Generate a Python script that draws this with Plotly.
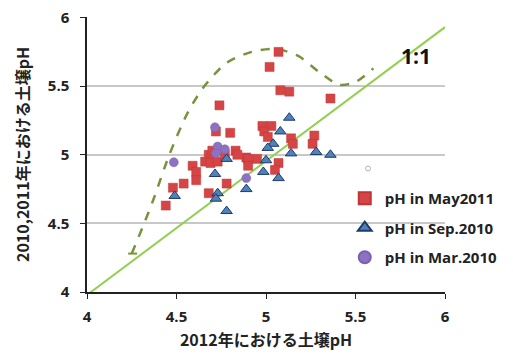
import plotly.graph_objects as go

# Red squares: pH in May2011
may2011_x = [5.07, 5.02, 5.08, 5.13, 5.36, 4.74, 4.72, 4.80, 4.98, 5.03, 4.99, 5.01,
             5.14, 5.15, 5.27, 5.26, 4.83, 4.89, 4.84, 4.90, 4.95, 4.90, 5.07, 5.05,
             4.78, 4.68, 4.66, 4.59, 4.69, 4.73, 4.61, 4.54, 4.48, 4.61, 4.44, 4.68,
             4.77, 4.70]
may2011_y = [5.75, 5.64, 5.47, 5.46, 5.41, 5.36, 5.17, 5.16, 5.21, 5.21, 5.17, 5.13,
             5.12, 5.08, 5.14, 5.08, 5.03, 4.98, 5.00, 4.97, 4.97, 4.92, 4.94, 4.89,
             4.79, 5.00, 4.95, 4.92, 4.94, 4.95, 4.875, 4.79, 4.76, 4.815, 4.63, 4.72,
             5.00, 5.03]

# Blue triangles: pH in Sep.2010
sep2010_x = [5.13, 5.08, 5.04, 5.01, 5.00, 5.14, 4.985, 5.07, 4.89, 4.78, 5.28, 5.36,
             4.715, 4.78, 4.49, 4.73, 4.72]
sep2010_y = [5.27, 5.17, 5.08, 5.05, 4.96, 5.01, 4.875, 4.83, 4.75, 4.59, 5.02, 5.00,
             4.86, 4.97, 4.70, 4.72, 4.68]

# Purple circles: pH in Mar.2010
mar2010_x = [4.715, 4.73, 4.77, 4.72, 4.485, 4.89]
mar2010_y = [5.20, 5.06, 5.04, 5.01, 4.945, 4.83]

# stray small open marker
stray_x = [5.57]
stray_y = [4.90]

# 1:1 reference line
ref_x = [3.93, 6.0]
ref_y = [3.91, 5.93]

# dashed envelope curve
env_tick_x = [4.23, 4.28]
env_tick_y = [4.28, 4.28]
env_x = [4.25, 4.31, 4.37, 4.46, 4.56, 4.65, 4.78, 4.92, 5.06, 5.18, 5.30, 5.41, 5.50, 5.60]
env_y = [4.28, 4.47, 4.67, 5.00, 5.30, 5.49, 5.67, 5.75, 5.77, 5.72, 5.60, 5.51, 5.53, 5.63]

x_ticks = [4, 4.5, 5, 5.5, 6]
y_ticks = [4, 4.5, 5, 5.5, 6]

fig = go.Figure()

env_line = dict(color="#77933c", width=2.5, dash="dash")
fig.add_trace(go.Scatter(x=env_x, y=env_y, mode="lines", showlegend=False,
                         line=dict(**env_line, shape="spline", smoothing=0.8),
                         hoverinfo="skip"))
fig.add_trace(go.Scatter(x=env_tick_x, y=env_tick_y, mode="lines", showlegend=False,
                         line=dict(color="#77933c", width=2), hoverinfo="skip"))
fig.add_trace(go.Scatter(x=ref_x, y=ref_y, mode="lines", showlegend=False,
                         line=dict(color="#92d050", width=2), hoverinfo="skip"))
fig.add_trace(go.Scatter(x=stray_x, y=stray_y, mode="markers", showlegend=False,
                         marker=dict(symbol="circle-open", size=5, color="#b0b0b0", line=dict(width=1))))

fig.add_trace(go.Scatter(x=may2011_x, y=may2011_y, mode="markers", name="pH in May2011",
                         legendgroup="a",
                         marker=dict(symbol="square", size=9, color="#d64545",
                                     line=dict(color="#c03535", width=0.5))))
fig.add_trace(go.Scatter(x=sep2010_x, y=sep2010_y, mode="markers", name="pH in Sep.2010",
                         legendgroup="b",
                         marker=dict(symbol="triangle-up", size=10, color="#4f81bd",
                                     line=dict(color="#1f3b66", width=1))))
fig.add_trace(go.Scatter(x=mar2010_x, y=mar2010_y, mode="markers", name="pH in Mar.2010",
                         legendgroup="c",
                         marker=dict(symbol="circle", size=9, color="#8e72c2",
                                     line=dict(color="#7a60b0", width=0.5))))

fig.add_annotation(x=5.84, y=5.72, text="1:1", showarrow=False,
                   font=dict(family="Open Sans", size=21, color="#111111", weight="bold"))

tick_font = dict(family="Open Sans", size=15, color="#222222", weight="bold")
title_font = dict(family="Noto Sans CJK JP", size=16, color="#222222", weight="bold")

# page body has an 8px margin, so the figure is sized/offset to keep the plot in place
fig.update_layout(
    width=505, height=346,
    margin=dict(l=79, r=68, t=9, b=62, autoexpand=False),
    plot_bgcolor="white", paper_bgcolor="white",
    showlegend=True,
    legend=dict(x=0.72, y=0.40, xanchor="left", yanchor="top",
                bgcolor="rgba(0,0,0,0)",
                font=dict(family="Open Sans", size=15, color="#222222", weight="bold"),
                itemsizing="constant", tracegroupgap=7, itemwidth=30),
    xaxis=dict(range=[4, 6], tickvals=x_ticks, ticktext=[str(v) for v in x_ticks],
               showgrid=False, zeroline=False, showline=True, linecolor="#222222", linewidth=1.5,
               ticks="outside", ticklen=5, tickcolor="#222222", automargin=False,
               tickfont=tick_font, ticklabelstandoff=5, ticklabeloverflow="allow",
               title=dict(text="2012年における土壌pH", font=title_font, standoff=10)),
    yaxis=dict(range=[4, 6.004], tickvals=y_ticks, ticktext=[str(v) for v in y_ticks],
               showgrid=True, gridcolor="#c8c8c8", gridwidth=1.5, zeroline=False,
               showline=True, linecolor="#222222", linewidth=1.5,
               ticks="outside", ticklen=5, tickcolor="#222222", automargin=False,
               tickfont=tick_font, ticklabelstandoff=8, ticklabeloverflow="allow",
               title=dict(text="2010,2011年における土壌pH", font=title_font, standoff=14)),
)

fig.write_html("out.html")
